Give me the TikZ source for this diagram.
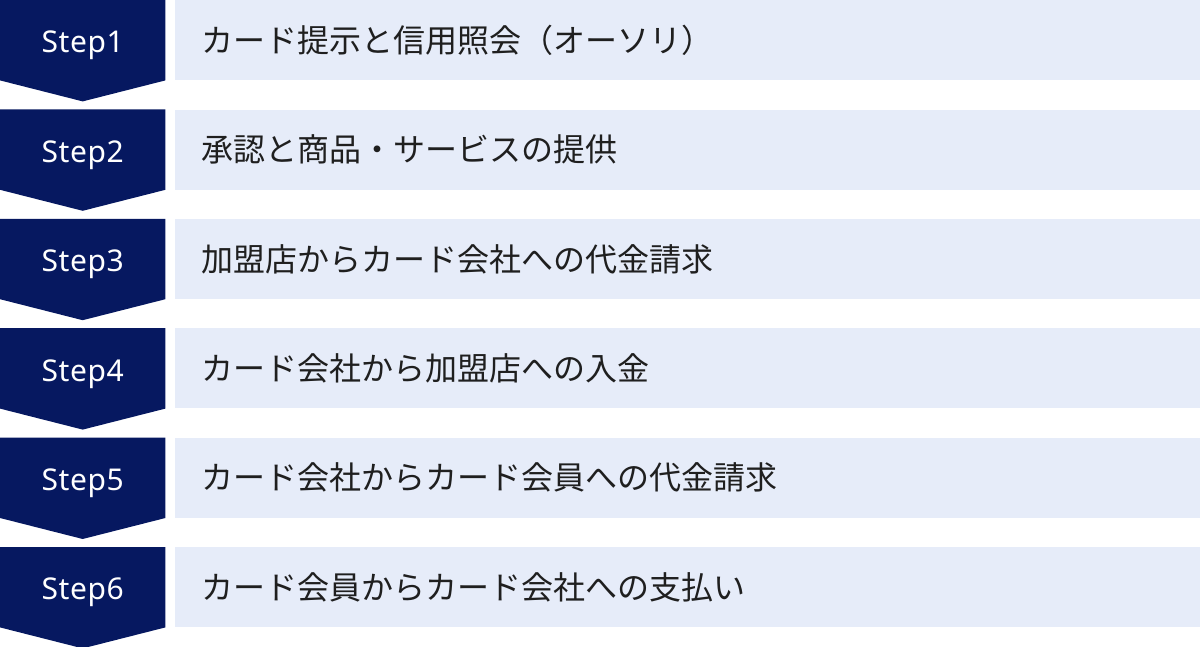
\documentclass[tikz,border=0pt]{standalone}
\usepackage{fontspec}
\setmainfont{Noto Sans CJK JP}
\newfontfamily\steplatin[LetterSpace=2]{Noto Sans}
\usetikzlibrary{positioning}
\usetikzlibrary{backgrounds}
\definecolor{stepnavy}{HTML}{061860}
\definecolor{boxblue}{HTML}{E6ECF9}

\begin{document}
\begin{tikzpicture}[steptag/.style={text=white, rectangle, inner sep=0pt, minimum width=165pt, minimum height=80pt, text height=25.4pt, text depth=0pt, font=\steplatin\fontsize{30pt}{34pt}\selectfont},
				stepbox/.style={fill=boxblue, text=black!88, rectangle, inner xsep=27pt, inner ysep=0pt, minimum width=1026pt, minimum height=80pt, text width=972pt, align=left, font=\fontsize{32pt}{36pt}\selectfont},
				node distance=29pt]
				\useasboundingbox (0,0) rectangle (1200pt,-647pt);
				\node[steptag, anchor=north west](step1) at (0, 0) {Step1};
				\node[steptag, below=of step1](step2) {Step2};
				\node[steptag, below=of step2](step3) {Step3};
				\node[steptag, below=of step3](step4) {Step4};
				\node[steptag, below=of step4](step5) {Step5};
				\node[steptag, below=of step5](step6) {Step6};
				
				\node[stepbox, right=9pt of step1](box1) {カード提示と信用照会（オーソリ）};
				\node[stepbox, right=9pt of step2](box2) {承認と商品・サービスの提供};
				\node[stepbox, right=9pt of step3](box3) {加盟店からカード会社への代金請求};
				\node[stepbox, right=9pt of step4](box4) {カード会社から加盟店への入金};
				\node[stepbox, right=9pt of step5](box5) {カード会社からカード会員への代金請求};
				\node[stepbox, right=9pt of step6](box6) {カード会員からカード会社への支払い};
				
				\begin{scope}[on background layer]
				\foreach \s in {step1, step2, step3, step4, step5, step6}
				\fill[stepnavy] (\s.north west) -- (\s.north east) -- (\s.south east) -- ([yshift=-21pt]\s.south) -- (\s.south west) -- cycle;
				\end{scope}
				
			\end{tikzpicture}
\end{document}
